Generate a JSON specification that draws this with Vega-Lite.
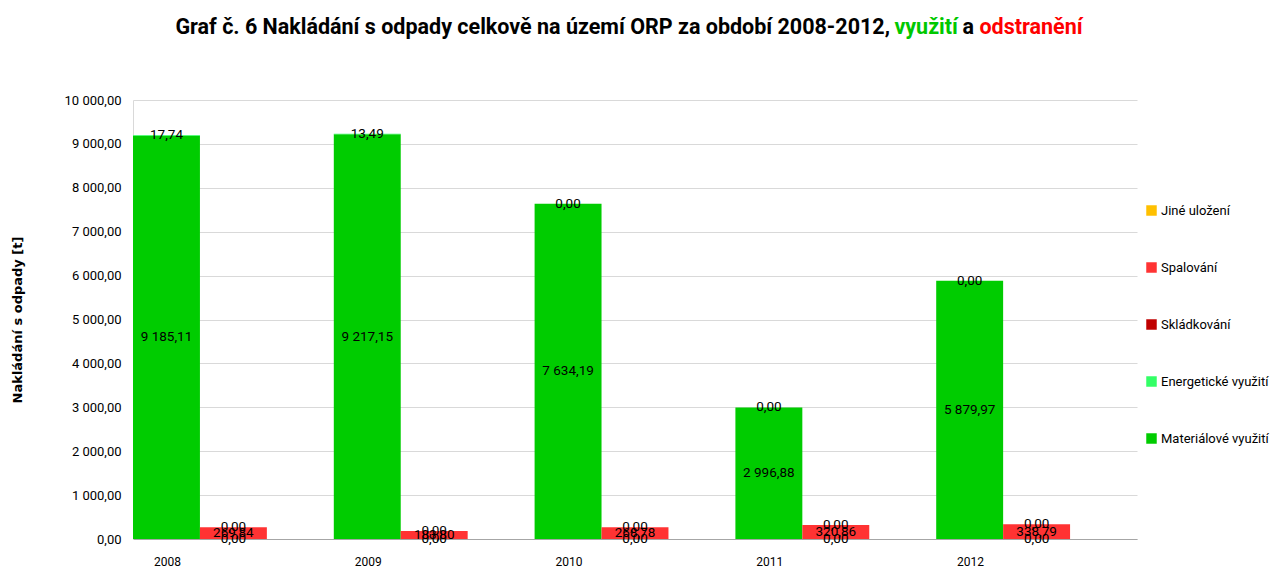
{
  "$schema": "https://vega.github.io/schema/vega-lite/v6.json",
  "padding": {"left": 11, "top": 17, "right": 5, "bottom": 5},
  "background": "white",
  "config": {
    "locale": {"number": {"decimal": ",", "thousands": " ", "grouping": [3], "currency": ["", " Kč"]}},
    "view": {"stroke": null},
    "font": "Roboto"
  },
  "datasets": {
    "odpady": [
      {"year": "2008", "group": "využití", "kind": "Materiálové využití", "poradi": 1, "value": 9185.11},
      {"year": "2008", "group": "využití", "kind": "Energetické využití", "poradi": 2, "value": 17.74},
      {"year": "2008", "group": "odstranění", "kind": "Skládkování", "poradi": 1, "value": 0},
      {"year": "2008", "group": "odstranění", "kind": "Spalování", "poradi": 2, "value": 269.84},
      {"year": "2008", "group": "odstranění", "kind": "Jiné uložení", "poradi": 3, "value": 0},
      {"year": "2009", "group": "využití", "kind": "Materiálové využití", "poradi": 1, "value": 9217.15},
      {"year": "2009", "group": "využití", "kind": "Energetické využití", "poradi": 2, "value": 13.49},
      {"year": "2009", "group": "odstranění", "kind": "Skládkování", "poradi": 1, "value": 0},
      {"year": "2009", "group": "odstranění", "kind": "Spalování", "poradi": 2, "value": 183.80},
      {"year": "2009", "group": "odstranění", "kind": "Jiné uložení", "poradi": 3, "value": 0},
      {"year": "2010", "group": "využití", "kind": "Materiálové využití", "poradi": 1, "value": 7634.19},
      {"year": "2010", "group": "využití", "kind": "Energetické využití", "poradi": 2, "value": 0},
      {"year": "2010", "group": "odstranění", "kind": "Skládkování", "poradi": 1, "value": 0},
      {"year": "2010", "group": "odstranění", "kind": "Spalování", "poradi": 2, "value": 268.78},
      {"year": "2010", "group": "odstranění", "kind": "Jiné uložení", "poradi": 3, "value": 0},
      {"year": "2011", "group": "využití", "kind": "Materiálové využití", "poradi": 1, "value": 2996.88},
      {"year": "2011", "group": "využití", "kind": "Energetické využití", "poradi": 2, "value": 0},
      {"year": "2011", "group": "odstranění", "kind": "Skládkování", "poradi": 1, "value": 0},
      {"year": "2011", "group": "odstranění", "kind": "Spalování", "poradi": 2, "value": 320.86},
      {"year": "2011", "group": "odstranění", "kind": "Jiné uložení", "poradi": 3, "value": 0},
      {"year": "2012", "group": "využití", "kind": "Materiálové využití", "poradi": 1, "value": 5879.97},
      {"year": "2012", "group": "využití", "kind": "Energetické využití", "poradi": 2, "value": 0},
      {"year": "2012", "group": "odstranění", "kind": "Skládkování", "poradi": 1, "value": 0},
      {"year": "2012", "group": "odstranění", "kind": "Spalování", "poradi": 2, "value": 338.79},
      {"year": "2012", "group": "odstranění", "kind": "Jiné uložení", "poradi": 3, "value": 0}
    ]
  },
  "vconcat": [
    {
      "hconcat": [
        {"title": {"text": "Graf č. 6 Nakládání s odpady celkově na území ORP za období 2008-2012,", "color": "black", "anchor": "start", "fontSize": 21.5, "fontWeight": "bold", "font": "Roboto", "offset": 0, "dx": -12}, "width": 1, "height": 1, "data": {"values": [{}]}, "mark": {"type": "text"}, "encoding": {}},
        {"title": {"text": "využití", "color": "#00C800", "anchor": "start", "fontSize": 21.5, "fontWeight": "bold", "font": "Roboto", "offset": 0, "dx": -12}, "width": 1, "height": 1, "data": {"values": [{}]}, "mark": {"type": "text"}, "encoding": {}},
        {"title": {"text": "a", "color": "black", "anchor": "start", "fontSize": 21.5, "fontWeight": "bold", "font": "Roboto", "offset": 0, "dx": -12}, "width": 1, "height": 1, "data": {"values": [{}]}, "mark": {"type": "text"}, "encoding": {}},
        {"title": {"text": "odstranění", "color": "#FF0000", "anchor": "start", "fontSize": 21.5, "fontWeight": "bold", "font": "Roboto", "offset": 0, "dx": -12}, "width": 1, "height": 1, "data": {"values": [{}]}, "mark": {"type": "text"}, "encoding": {}}
      ],
      "spacing": 4
    },
    {
      "width": 1004,
      "height": 439,
      "data": {"name": "odpady"},
      "encoding": {
        "x": {"field": "year", "type": "nominal", "scale": {"paddingInner": 0, "paddingOuter": 0},
          "axis": {"title": null, "labelAngle": 0, "ticks": false, "labelOffset": -66, "domainColor": "#A6A6A6", "labelPadding": 17, "labelFontSize": 12, "labelColor": "black", "labelFont": "Roboto"}},
        "xOffset": {"field": "group", "type": "nominal", "scale": {"domain": ["využití", "odstranění", "—"], "paddingInner": 0, "paddingOuter": 0}},
        "y": {"field": "value", "type": "quantitative", "stack": "zero", "scale": {"domain": [0, 10000]},
          "axis": {"title": "Nakládání s odpady [t]", "titleFont": "DejaVu Sans", "titleFontSize": 13, "titleFontWeight": "bold", "titleColor": "black", "titlePadding": 40, "values": [0, 1000, 2000, 3000, 4000, 5000, 6000, 7000, 8000, 9000, 10000], "format": ",.2f", "ticks": false, "labelPadding": 12, "labelFontSize": 13, "labelColor": "black", "labelFont": "Roboto", "gridColor": "#D9D9D9", "domainColor": "#D9D9D9"}},
        "order": {"field": "poradi", "type": "quantitative", "sort": "ascending"}
      },
      "layer": [
        {
          "mark": {"type": "bar"},
          "encoding": {
            "color": {"field": "kind", "type": "nominal",
              "scale": {"domain": ["Jiné uložení", "Spalování", "Skládkování", "Energetické využití", "Materiálové využití"], "range": ["#FFC000", "#FF3333", "#C00000", "#33FF66", "#00CC00"]},
              "legend": {"title": null, "orient": "none", "legendX": 1012, "legendY": 160, "symbolType": "square", "symbolSize": 110, "symbolStrokeWidth": 0, "labelFontSize": 13, "labelColor": "black", "labelFont": "Roboto", "rowPadding": 43, "labelOffset": 3}}
          }
        },
        {
          "mark": {"type": "text", "fontSize": 13.5, "color": "black", "font": "Roboto"},
          "encoding": {
            "y": {"field": "value", "type": "quantitative", "stack": "zero", "bandPosition": 0.5},
            "text": {"field": "value", "type": "quantitative", "format": ",.2f"}
          }
        }
      ]
    }
  ],
  "center": true,
  "spacing": 44
}
